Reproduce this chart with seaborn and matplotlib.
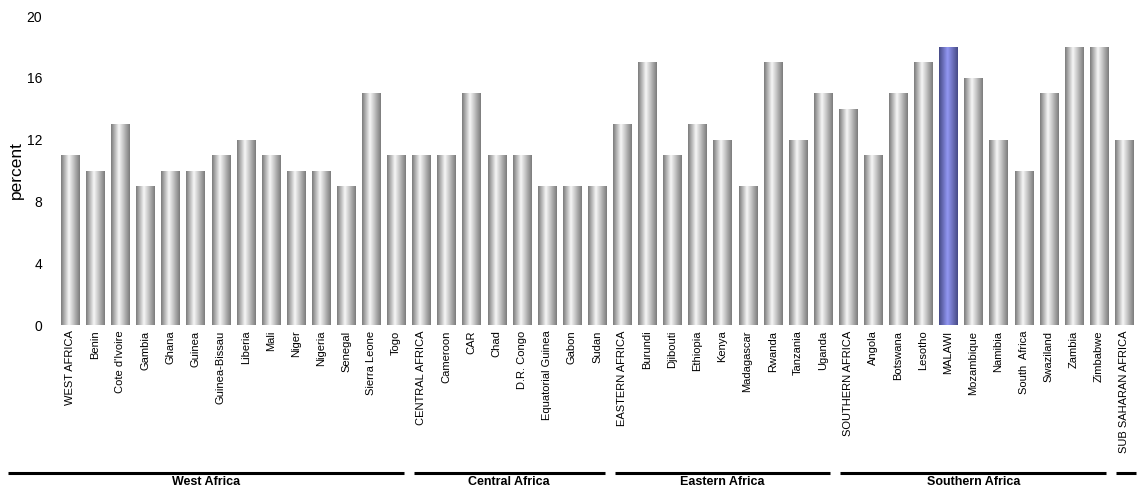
import numpy as np
import pandas as pd
import matplotlib
matplotlib.use("Agg")
import matplotlib.pyplot as plt
from matplotlib.colors import LinearSegmentedColormap
import seaborn as sns

countries = ["WEST AFRICA", "Benin", "Cote d'Ivoire", "Gambia", "Ghana", "Guinea",
             "Guinea-Bissau", "Liberia", "Mali", "Niger", "Nigeria", "Senegal",
             "Sierra Leone", "Togo",
             "CENTRAL AFRICA", "Cameroon", "CAR", "Chad", "D.R. Congo",
             "Equatorial Guinea", "Gabon", "Sudan",
             "EASTERN AFRICA", "Burundi", "Djibouti", "Ethiopia", "Kenya",
             "Madagascar", "Rwanda", "Tanzania", "Uganda",
             "SOUTHERN AFRICA", "Angola", "Botswana", "Lesotho", "MALAWI",
             "Mozambique", "Namibia", "South  Africa", "Swaziland", "Zambia", "Zimbabwe",
             "SUB SAHARAN AFRICA"]
values = [11, 10, 13, 9, 10, 10, 11, 12, 11, 10, 10, 9, 15, 11,
          11, 11, 15, 11, 11, 9, 9, 9,
          13, 17, 11, 13, 12, 9, 17, 12, 15,
          14, 11, 15, 17, 18, 16, 12, 10, 15, 18, 18,
          12]
group_names = ["West Africa", "Central Africa", "Eastern Africa", "Southern Africa", ""]
group_sizes = [14, 8, 9, 11, 1]
highlight = "MALAWI"

df = pd.DataFrame({"country": countries, "value": values})

sns.set_style("white")
plt.rcParams['font.family'] = ['Liberation Sans', 'DejaVu Sans']
plt.rcParams['text.color'] = 'black'
plt.rcParams['axes.labelcolor'] = 'black'
plt.rcParams['xtick.color'] = 'black'
plt.rcParams['ytick.color'] = 'black'

fig = plt.figure(figsize=(11.43, 4.94), dpi=100)
ax = fig.add_axes([0.0503, 0.342, 0.944, 0.6255])

sns.barplot(data=df, x="country", y="value", color="grey", width=0.72, ax=ax)

grey_cmap = LinearSegmentedColormap.from_list(
    "cyl", [(0, "#7c7c7c"), (0.42, "#f7f7f7"), (1, "#7c7c7c")])
blue_cmap = LinearSegmentedColormap.from_list(
    "cylb", [(0, "#474b86"), (0.45, "#9297f3"), (1, "#474b86")])
grad = np.linspace(0, 1, 64).reshape(1, -1)

for patch, name in zip(ax.patches, countries):
    x0 = patch.get_x()
    w = patch.get_width()
    h = patch.get_height()
    patch.set_facecolor("none")
    patch.set_edgecolor("none")
    cmap = blue_cmap if name == highlight else grey_cmap
    im = ax.imshow(grad, extent=[x0, x0 + w, 0, h], aspect="auto", cmap=cmap,
                   interpolation="bilinear", zorder=2)
    im.set_clip_path(patch)

ax.set_xlim(-0.5, len(countries) - 0.5)
ax.set_ylim(0, 20)
ax.set_yticks([0, 4, 8, 12, 16, 20])
ax.tick_params(axis="y", labelsize=10, length=0, pad=11)
ax.tick_params(axis="x", labelsize=8, length=0, pad=4, labelrotation=90)
ax.set_xlabel("")
ax.set_ylabel("percent", fontsize=12.5, labelpad=2)
sns.despine(ax=ax, left=True, bottom=True)

# region brackets under the country labels
start = 0
y_line = -0.4777
for i, (gname, n) in enumerate(zip(group_names, group_sizes)):
    left = start - 0.5 + 0.2
    right = start + n - 0.5 - 0.2
    if i == 0:
        left = -2.47
    if i == len(group_sizes) - 1:
        right = start + n - 0.5
    ax.plot([left, right], [y_line, y_line], color="black", lw=2.2,
            transform=ax.get_xaxis_transform(), clip_on=False, solid_capstyle="butt")
    if gname:
        ax.text((left + right) / 2, y_line - 0.011, gname, ha="center", va="top",
                fontsize=9, fontweight="bold", transform=ax.get_xaxis_transform())
    start += n

fig.savefig("out.png", dpi=100)
